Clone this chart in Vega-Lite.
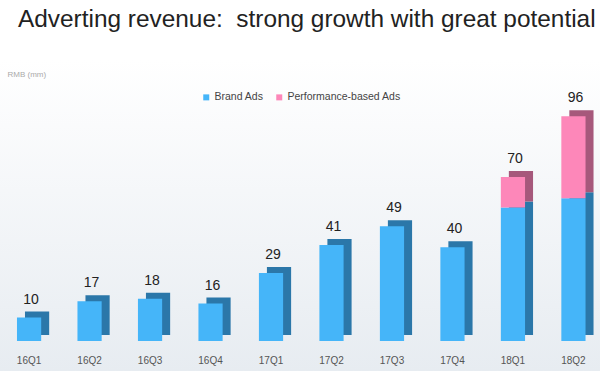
{
  "$schema": "https://vega.github.io/schema/vega-lite/v6.json",
  "width": 600,
  "height": 311,
  "autosize": {"type": "none"},
  "padding": {"left": 0, "top": 60, "right": 0, "bottom": 0},
  "background": "#ffffff",
  "config": {"font": "Liberation Sans", "view": {"stroke": null}},
  "title": {
    "text": "Adverting revenue:\u00a0 strong growth with great potential",
    "anchor": "start",
    "frame": "group",
    "dx": 18,
    "offset": 28,
    "fontSize": 24.4,
    "fontWeight": "normal",
    "color": "#222222"
  },
  "datasets": {
    "rev": [
      {"q": "16Q1", "type": "Brand Ads", "value": 10},
      {"q": "16Q2", "type": "Brand Ads", "value": 17},
      {"q": "16Q3", "type": "Brand Ads", "value": 18},
      {"q": "16Q4", "type": "Brand Ads", "value": 16},
      {"q": "17Q1", "type": "Brand Ads", "value": 29},
      {"q": "17Q2", "type": "Brand Ads", "value": 41},
      {"q": "17Q3", "type": "Brand Ads", "value": 49},
      {"q": "17Q4", "type": "Brand Ads", "value": 40},
      {"q": "18Q1", "type": "Brand Ads", "value": 57},
      {"q": "18Q1", "type": "Performance-based Ads", "value": 13},
      {"q": "18Q2", "type": "Brand Ads", "value": 61},
      {"q": "18Q2", "type": "Performance-based Ads", "value": 35}
    ]
  },
  "layer": [
    {
      "data": {"values": [{}]},
      "mark": {
        "type": "rect",
        "fill": {
          "gradient": "linear", "x1": 0, "y1": 0, "x2": 0, "y2": 1,
          "stops": [{"offset": 0, "color": "#ffffff"}, {"offset": 1, "color": "#e7ecf1"}]
        }
      },
      "encoding": {}
    },
    {
      "data": {"name": "rev"},
      "mark": {"type": "bar", "xOffset": 8, "x2Offset": 8, "yOffset": -6, "y2Offset": -6},
      "encoding": {
        "x": {
          "field": "q", "type": "nominal", "sort": null,
          "scale": {"paddingInner": 0.6, "paddingOuter": 0.26, "align": 0.54},
          "axis": {"title": null, "labelAngle": 0, "ticks": false, "domain": false, "offset": -17, "labelPadding": 1, "labelBaseline": "top", "labelFontSize": 10, "labelColor": "#555555", "zindex": 1}
        },
        "y": {
          "field": "value", "type": "quantitative", "stack": "zero",
          "scale": {"domain": [-12.8, 120], "nice": false, "zero": false},
          "axis": {"title": "RMB (mm)", "labels": false, "ticks": false, "domain": false, "grid": false, "zindex": 1, "titleAngle": 0, "titleX": 7, "titleY": 14, "titleAlign": "left", "titleBaseline": "middle", "titleFontSize": 8, "titleFontWeight": "normal", "titleColor": "#aaaaaa"}
        },
        "color": {
          "field": "type", "type": "nominal",
          "scale": {"domain": ["Brand Ads", "Performance-based Ads"], "range": ["#2b77a9", "#a6587b"]},
          "legend": null
        },
        "order": {"field": "type", "sort": "ascending"}
      }
    },
    {
      "data": {"name": "rev"},
      "mark": {"type": "bar"},
      "encoding": {
        "x": {"field": "q", "type": "nominal", "sort": null},
        "y": {"field": "value", "type": "quantitative", "stack": "zero"},
        "color": {
          "field": "type", "type": "nominal",
          "scale": {"domain": ["Brand Ads", "Performance-based Ads"], "range": ["#45b5f9", "#fd87b9"]},
          "legend": {"title": null, "orient": "none", "legendX": 201, "legendY": 32, "direction": "horizontal", "symbolType": "square", "symbolSize": 36, "symbolStrokeWidth": 0, "labelFontSize": 10.5, "labelColor": "#444444", "columnPadding": 10, "labelOffset": 3}
        },
        "order": {"field": "type", "sort": "ascending"}
      }
    },
    {
      "data": {"name": "rev"},
      "transform": [{"aggregate": [{"op": "sum", "field": "value", "as": "total"}], "groupby": ["q"]}],
      "mark": {"type": "text", "dy": -14, "dx": 2, "baseline": "alphabetic", "fontSize": 14, "color": "#222222"},
      "encoding": {
        "x": {"field": "q", "type": "nominal", "sort": null},
        "y": {"field": "total", "type": "quantitative"},
        "text": {"field": "total", "type": "quantitative"}
      }
    }
  ],
  "resolve": {"scale": {"color": "independent"}}
}
